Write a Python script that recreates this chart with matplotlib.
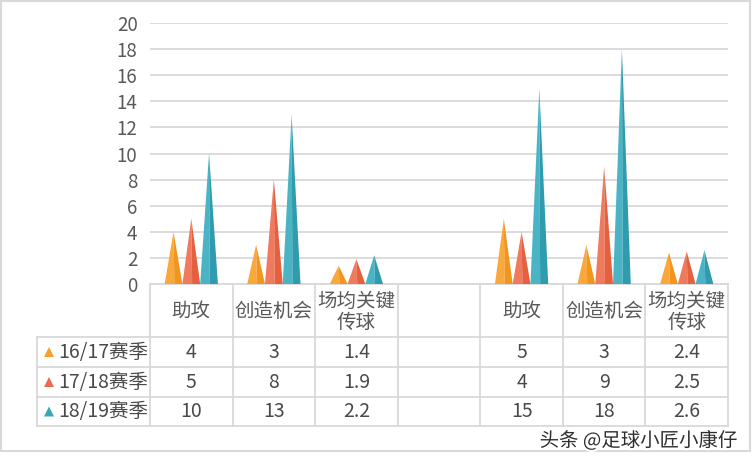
import matplotlib
matplotlib.use("Agg")
import matplotlib.pyplot as plt
from matplotlib.patches import Polygon, Rectangle
import matplotlib.patheffects as pe

plt.rcParams['font.family'] = ['Noto Sans CJK SC', 'DejaVu Sans']

# ---- data ----
categories = ['助攻', '创造机会', '场均关键\n传球', '', '助攻', '创造机会', '场均关键\n传球']
series_names = ['16/17赛季', '17/18赛季', '18/19赛季']
s1617 = [4, 3, 1.4, None, 5, 3, 2.4]
s1718 = [5, 8, 1.9, None, 4, 9, 2.5]
s1819 = [10, 13, 2.2, None, 15, 18, 2.6]
series_values = [s1617, s1718, s1819]
yticks = [0, 2, 4, 6, 8, 10, 12, 14, 16, 18, 20]

light_cols = ['#FAA73C', '#EF7A5E', '#4AB4C4']
dark_cols = ['#F0951E', '#E4603F', '#2E9CAE']
legend_cols = ['#F5A030', '#EB6B50', '#3AA6B8']
text_col = '#595959'
line_col = '#D9D9D9'

W, H = 752, 465
fig = plt.figure(figsize=(W / 100, H / 100), dpi=100)

# overlay axes in pixel coordinates (for frame & table)
ov = fig.add_axes([0, 0, 1, 1])
ov.set_xlim(0, W)
ov.set_ylim(H, 0)
ov.axis('off')

# plot area
x0p, x1p = 150, 728
y0p, y1p = 284, 23
ax = fig.add_axes([x0p / W, (H - y0p) / H, (x1p - x0p) / W, (y0p - y1p) / H])
ax.set_xlim(-0.5, len(categories) - 0.5)
ax.set_ylim(0, 20)
ax.set_yticks(yticks)
ax.set_yticklabels([str(t) for t in yticks], fontsize=13.5, color=text_col)
ax.set_xticks([])
for sp in ax.spines.values():
    sp.set_visible(False)
ax.tick_params(axis='y', length=0, pad=9)
ax.yaxis.grid(True, color=line_col, linewidth=1.3)
ax.set_axisbelow(True)
ax.patch.set_alpha(0)

bw = 0.215
offsets = [-0.215, 0.0, 0.215]
for si, vals in enumerate(series_values):
    for ci, v in enumerate(vals):
        if v is None:
            continue
        xc = ci + offsets[si]
        xl, xr = xc - bw / 2, xc + bw / 2
        xm = xc + 0.01
        ax.add_patch(Polygon([(xl, 0), (xc, v), (xm, 0)], closed=True,
                             facecolor=light_cols[si], edgecolor='none', zorder=3))
        ax.add_patch(Polygon([(xm, 0), (xc, v), (xr, 0)], closed=True,
                             facecolor=dark_cols[si], edgecolor='none', zorder=3))

# outer frame
ov.add_patch(Rectangle((1, 1), W - 3, 450, fill=False, edgecolor=line_col, linewidth=1.5))

# data table
ncol = len(categories)
cw = (x1p - x0p) / ncol
col_x = [x0p + i * cw for i in range(ncol + 1)]
row_y = [284, 337, 367, 397, 426]
lab_x0 = 37
lw = 1.3
ov.plot([x0p, x1p], [row_y[0], row_y[0]], color=line_col, lw=lw)
for y in row_y[1:]:
    ov.plot([lab_x0, x1p], [y, y], color=line_col, lw=lw)
for x in col_x:
    ov.plot([x, x], [row_y[0], row_y[-1]], color=line_col, lw=lw)
ov.plot([lab_x0, lab_x0], [row_y[1], row_y[-1]], color=line_col, lw=lw)

fs = 14
for ci, cat in enumerate(categories):
    cx = (col_x[ci] + col_x[ci + 1]) / 2
    ov.text(cx, (row_y[0] + row_y[1]) / 2 + 1, cat, ha='center', va='center',
            fontsize=fs, color=text_col, linespacing=1.0)
    for si, vals in enumerate(series_values):
        v = vals[ci]
        if v is None:
            continue
        cy = (row_y[si + 1] + row_y[si + 2]) / 2
        ov.text(cx, cy, f'{v:g}', ha='center', va='center', fontsize=fs, color='#4a4a4a')

for si, name in enumerate(series_names):
    cy = (row_y[si + 1] + row_y[si + 2]) / 2
    ov.text(148, cy, name, ha='right', va='center', fontsize=fs, color='#4a4a4a')
    ov.add_patch(Polygon([(44, cy + 5), (49, cy - 5), (54, cy + 5)], closed=True,
                         facecolor=legend_cols[si], edgecolor='none'))

# watermark
ov.text(738, 441, '头条 @足球小匠小康仔', ha='right', va='center', fontsize=14,
        color='#2e2e2e', path_effects=[pe.withStroke(linewidth=3, foreground='white')])

fig.savefig('out.png', dpi=100)
